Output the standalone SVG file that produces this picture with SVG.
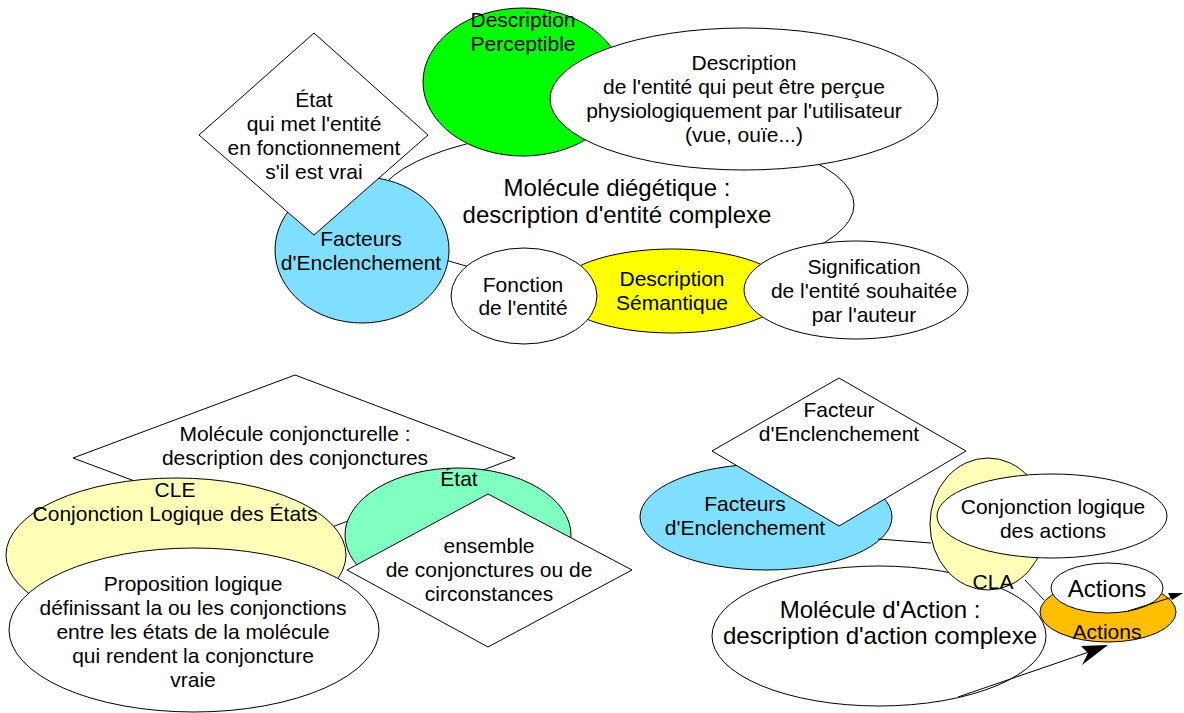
<svg xmlns="http://www.w3.org/2000/svg" width="1184" height="713" viewBox="0 0 1184 713">
  <style>
    .s { stroke: #000; stroke-width: 1; }
    .w { fill: #fff; }
    .green { fill: #00ff00; }
    .blue { fill: #80dfff; }
    .yellow { fill: #ffff00; }
    .pale { fill: #ffffb8; }
    .teal { fill: #80ffc0; }
    .orange { fill: #ffbf00; }
    text { font-family: "Liberation Sans", Arial, sans-serif; font-size: 21px; fill: #000; text-anchor: middle; }
    text.big { font-size: 24px; }
    .ln { stroke: #000; stroke-width: 1; fill: none; }
  </style>
  <rect width="1184" height="713" fill="#fff"/>

  <!-- Molécule diégétique -->
  <g id="molecule-diegetique">
    <ellipse class="s w" cx="615" cy="205" rx="239" ry="78"/>
  </g>
  <g id="description-perceptible">
    <ellipse class="s green" cx="523" cy="82" rx="100" ry="74"/>
  </g>
  <g id="description-entite">
    <ellipse class="s w" cx="744" cy="99" rx="194" ry="71"/>
    <text x="744" y="70">Description</text>
    <text x="744" y="94">de l'entité qui peut être perçue</text>
    <text x="744" y="118">physiologiquement par l'utilisateur</text>
    <text x="744" y="142">(vue, ouïe...)</text>
  </g>
  <g id="facteurs-enclenchement-1">
    <ellipse class="s blue" cx="362" cy="250" rx="87" ry="73"/>
  </g>
  <g id="etat-fonctionnement">
    <polygon class="s w" points="314,33 428,135 314,235 199,135"/>
    <text x="314" y="107">État</text>
    <text x="314" y="131">qui met l'entité</text>
    <text x="314" y="155">en fonctionnement</text>
    <text x="314" y="179">s'il est vrai</text>
  </g>
  <g id="description-semantique">
    <ellipse class="s yellow" cx="672" cy="291" rx="115" ry="42"/>
  </g>
  <g id="fonction-entite">
    <ellipse class="s w" cx="524" cy="296" rx="73" ry="48"/>
    <text x="523" y="292">Fonction</text>
    <text x="523" y="315">de l'entité</text>
  </g>
  <g id="signification">
    <ellipse class="s w" cx="856" cy="290" rx="112" ry="49"/>
    <text x="864" y="274">Signification</text>
    <text x="864" y="298">de l'entité souhaitée</text>
    <text x="864" y="322">par l'auteur</text>
  </g>
  <!-- labels of the top cluster drawn over the shapes -->
  <g id="top-labels">
    <text x="523" y="27">Description</text>
    <text x="523" y="51">Perceptible</text>
    <text class="big" x="617" y="196">Molécule diégétique :</text>
    <text class="big" x="617" y="223">description d'entité complexe</text>
    <text x="361" y="246">Facteurs</text>
    <text x="361" y="270">d'Enclenchement</text>
    <text x="672" y="286">Description</text>
    <text x="672" y="310">Sémantique</text>
  </g>

  <!-- Molécule conjoncturelle -->
  <g id="molecule-conjoncturelle">
    <polygon class="s w" points="295,375 515,458 295,541 73,458"/>
    <text x="295" y="441">Molécule conjoncturelle :</text>
    <text x="295" y="465">description des conjonctures</text>
  </g>
  <g id="cle">
    <ellipse class="s pale" cx="176" cy="555" rx="170" ry="77"/>
    <text x="175" y="497">CLE</text>
    <text x="175" y="521">Conjonction Logique des États</text>
  </g>
  <g id="proposition-logique">
    <ellipse class="s w" cx="194" cy="630" rx="185" ry="82"/>
    <text x="193" y="591">Proposition logique</text>
    <text x="193" y="615">définissant la ou les conjonctions</text>
    <text x="193" y="639">entre les états de la molécule</text>
    <text x="193" y="663">qui rendent la conjoncture</text>
    <text x="193" y="687">vraie</text>
  </g>
  <g id="etat">
    <ellipse class="s teal" cx="458" cy="535" rx="113" ry="67"/>
    <text x="459" y="486">État</text>
  </g>
  <g id="ensemble-conjonctures">
    <polygon class="s w" points="488,494 632,570 488,647 347,570"/>
    <text x="489" y="553">ensemble</text>
    <text x="489" y="577">de conjonctures ou de</text>
    <text x="489" y="601">circonstances</text>
  </g>

  <!-- Molécule d'Action -->
  <g id="molecule-action">
    <ellipse class="s w" cx="879" cy="636" rx="167" ry="70"/>
  </g>
  <g id="facteurs-enclenchement-2">
    <ellipse class="s blue" cx="766" cy="517" rx="126" ry="53"/>
  </g>
  <g id="facteur-enclenchement">
    <polygon class="s w" points="839,378 966,451 839,526 712,451"/>
    <text x="839" y="417">Facteur</text>
    <text x="839" y="441">d'Enclenchement</text>
  </g>
  <g id="cla">
    <ellipse class="s pale" cx="988" cy="524" rx="58" ry="66"/>
  </g>
  <g id="conjonction-actions">
    <ellipse class="s w" cx="1052" cy="516" rx="115" ry="42"/>
    <text x="1053" y="514">Conjonction logique</text>
    <text x="1053" y="538">des actions</text>
  </g>
  <g id="actions-orange">
    <ellipse class="s orange" cx="1108" cy="612" rx="68" ry="30"/>
  </g>
  <g id="actions">
    <ellipse class="s w" cx="1107" cy="588" rx="56" ry="25"/>
    <text class="big" x="1107" y="597">Actions</text>
  </g>
  <g id="action-labels">
    <text x="745" y="511">Facteurs</text>
    <text x="745" y="535">d'Enclenchement</text>
    <text class="big" x="880" y="618">Molécule d'Action :</text>
    <text class="big" x="880" y="644">description d'action complexe</text>
    <text x="993" y="589">CLA</text>
    <text x="1107" y="639">Actions</text>
  </g>

  <!-- connectors -->
  <g id="connectors">
    <line class="ln" x1="878" y1="539" x2="931" y2="543"/>
    <line class="ln" x1="1025" y1="580" x2="1044" y2="600"/>
    <line class="ln" x1="958" y1="697" x2="1089" y2="652"/>
    <polygon fill="#000" points="1108,645 1081,646 1088,653 1082,665"/>
    <line class="ln" x1="1128" y1="611" x2="1176" y2="596"/>
    <polygon fill="#000" points="1183,593 1168,593 1172,600"/>
  </g>
</svg>
